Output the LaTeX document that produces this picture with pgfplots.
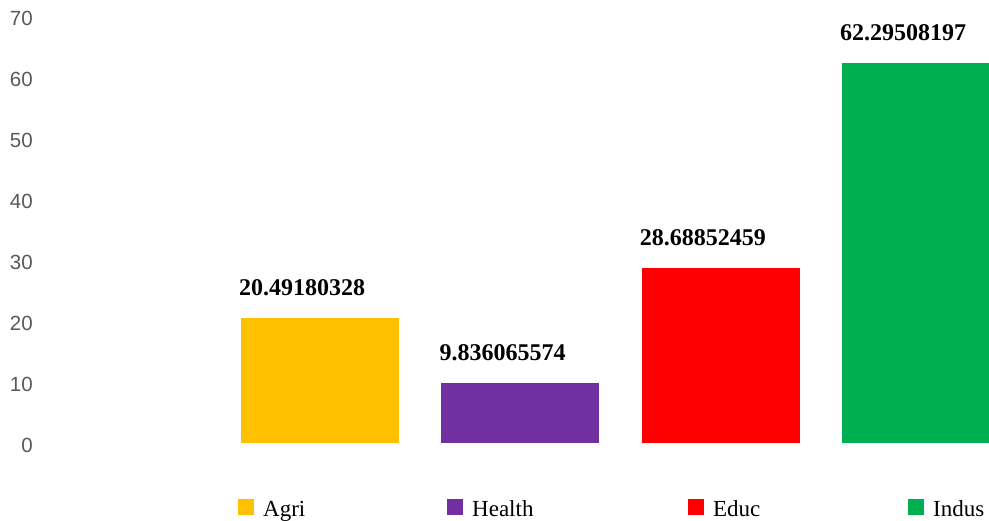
\documentclass[border=0pt]{standalone}
\usepackage{pgfplots}
\pgfplotsset{compat=1.18}
\usepackage{fontspec}
\setmainfont{Liberation Serif}
\newfontfamily\tickfont{Liberation Sans}
\definecolor{agri}{HTML}{FFC000}
\definecolor{health}{HTML}{7030A0}
\definecolor{educ}{HTML}{FF0000}
\definecolor{indus}{HTML}{00B050}
\definecolor{tickgray}{HTML}{595959}
\pgfplotsset{myleg/.style={legend image code/.code={\fill[##1] (0pt,-6pt) rectangle (16pt,10pt);}}}
\begin{document}
\begin{tikzpicture}
\useasboundingbox (0,0) rectangle (989pt,521pt);
\begin{axis}[
  at={(40pt,78pt)}, anchor=south west,
  scale only axis, width=949pt, height=427pt,
  xmin=-1.398, xmax=3.340, ymin=0, ymax=70,
  ytick={0,10,...,70}, xtick=\empty,
  axis line style={draw=none}, major tick length=0pt,
  /pgf/number format/assume math mode=true,
  yticklabel style={font=\tickfont\fontsize{20.5}{24}\selectfont, text=tickgray, anchor=east, inner sep=0pt, xshift=-7pt, yshift=-2pt},
  ybar, bar width=0.789, bar shift=0pt,
  point meta=explicit symbolic,
  nodes near coords,
  every node near coord/.append style={font=\bfseries\fontsize{24}{28}\selectfont, text=black, anchor=west, inner sep=0pt, xshift=-81pt, yshift=30pt},
  legend columns=4,
  legend style={at={(rel axis cs:0.20864,-0.154)}, anchor=west, draw=none, fill=none, inner sep=0pt, nodes={inner sep=0pt, font=\fontsize{23}{26}\selectfont}, /tikz/every odd column/.append style={column sep=9pt}},
]
\addplot[fill=agri, draw=none, bar shift=0pt, myleg] coordinates {(0,20.49180328) [20.49180328]};
\addlegendentry{\makebox[184pt][l]{Agri}}
\addplot[fill=health, draw=none, bar shift=0pt, myleg] coordinates {(1,9.836065574) [9.836065574]};
\addlegendentry{\makebox[216pt][l]{Health}}
\addplot[fill=educ, draw=none, bar shift=0pt, myleg] coordinates {(2,28.68852459) [28.68852459]};
\addlegendentry{\makebox[195pt][l]{Educ}}
\addplot[fill=indus, draw=none, bar shift=0pt, myleg] coordinates {(3,62.29508197) [62.29508197]};
\addlegendentry{Indus}
\end{axis}
\end{tikzpicture}
\end{document}
